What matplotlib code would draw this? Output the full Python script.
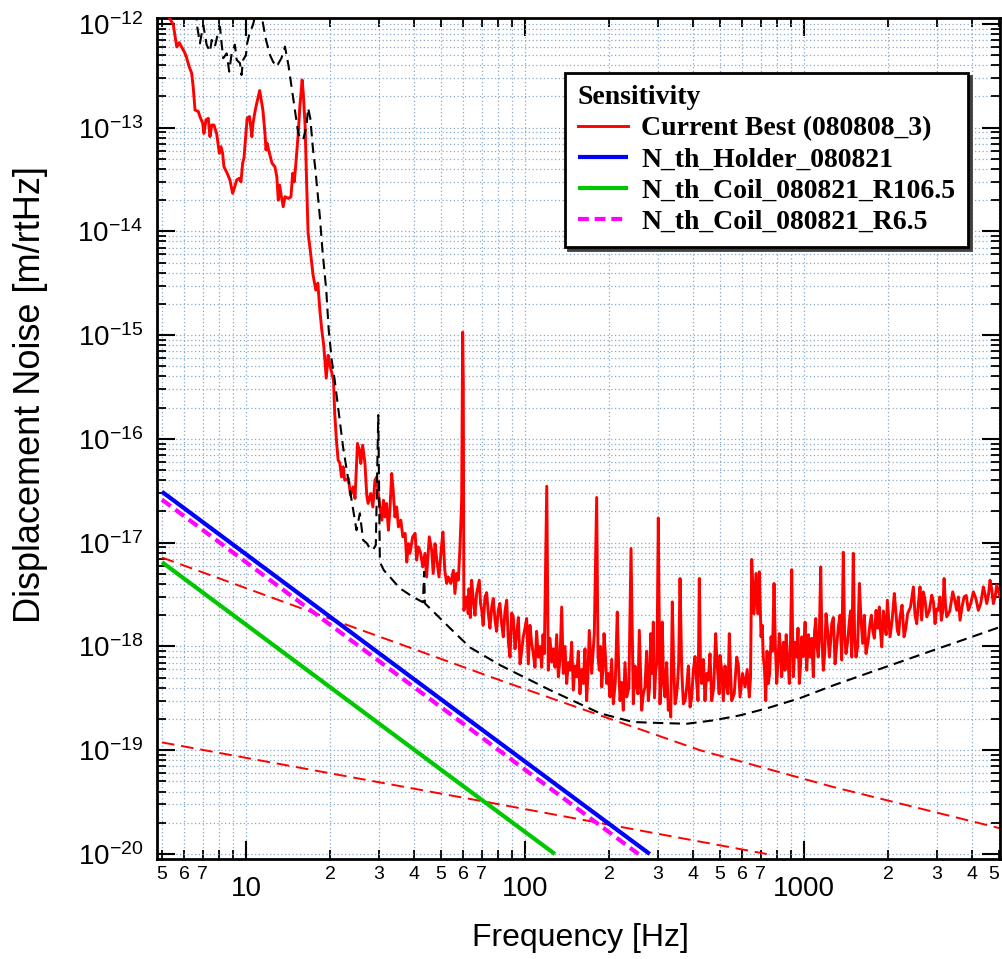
import matplotlib
matplotlib.use("Agg")
import numpy as np
import matplotlib.pyplot as plt
import matplotlib.transforms as mtransforms
from matplotlib.ticker import FuncFormatter, NullFormatter, FixedLocator
from matplotlib.font_manager import FontProperties

# ---------------- data ----------------
red_points = [
    (5.1, 1.4e-12), (5.49, 9.8e-13), (5.65, 6.0e-13), (5.77, 6.6e-13), (5.88, 6.0e-13),
    (6.04, 5.25e-13), (6.11, 4.84e-13), (6.26, 3.87e-13), (6.39, 3.35e-13), (6.47, 2.48e-13),
    (6.57, 1.48e-13), (6.75, 1.43e-13), (6.84, 1.28e-13), (7.0, 1.10e-13), (7.07, 8.8e-14),
    (7.19, 1.19e-13), (7.33, 1.23e-13), (7.43, 8.2e-14), (7.54, 1.06e-13), (7.68, 1.06e-13),
    (7.85, 8.8e-14), (8.03, 5.66e-14), (8.14, 6.56e-14), (8.25, 5.66e-14), (8.34, 4.2e-14),
    (8.57, 3.63e-14), (8.76, 3.13e-14), (8.96, 2.33e-14), (9.08, 2.6e-14), (9.26, 3.13e-14),
    (9.46, 3.25e-14), (9.60, 3.0e-14), (9.73, 4.54e-14), (9.84, 5.1e-14), (10.0, 8.8e-14),
    (10.1, 1.23e-13), (10.3, 1.28e-13), (10.5, 8.2e-14), (10.6, 1.10e-13), (10.8, 1.48e-13),
    (10.9, 1.66e-13), (11.2, 2.28e-13), (11.4, 1.72e-13), (11.5, 1.48e-13), (11.7, 8.8e-14),
    (11.8, 6.1e-14), (11.9, 7.1e-14), (12.1, 5.87e-14), (12.4, 4.54e-14), (12.7, 4.2e-14),
    (12.9, 3.37e-14), (13.06, 2.0e-14), (13.2, 2.8e-14), (13.4, 2.16e-14), (13.6, 1.73e-14),
    (13.8, 2.16e-14), (14.2, 2.08e-14), (14.5, 2.16e-14), (14.7, 3.63e-14), (14.9, 3.0e-14),
    (15.1, 4.54e-14), (15.4, 8.8e-14), (15.6, 1.59e-13), (15.9, 2.88e-13), (16.05, 2.15e-13),
    (16.3, 1.02e-13), (16.5, 2.91e-14), (16.7, 9.6e-15), (17.0, 6.6e-15), (17.4, 3.8e-15),
    (17.8, 2.72e-15), (18.1, 3.17e-15), (18.4, 1.75e-15), (18.7, 1.12e-15), (19.0, 8.0e-16),
    (19.4, 3.86e-16), (19.7, 6.4e-16), (20.0, 5.15e-16), (20.6, 3.69e-16), (20.8, 1.77e-16),
    (21.1, 9.7e-17), (21.4, 6.25e-17), (21.7, 5.85e-17), (22.0, 4.3e-17), (22.3, 5.4e-17),
    (22.6, 4.0e-17), (23.3, 4.16e-17), (23.7, 2.87e-17), (24.2, 3.45e-17), (24.6, 2.67e-17),
    (25.1, 9.05e-17), (25.5, 7.8e-17), (25.8, 5.8e-17), (26.2, 8.7e-17), (26.7, 5.8e-17),
    (27.1, 2.87e-17), (27.4, 2.39e-17), (28.0, 2.98e-17), (28.5, 2.21e-17), (29.0, 4.0e-17),
    (29.4, 4.3e-17), (29.8, 2.98e-17), (30.2, 2.21e-17), (30.7, 1.65e-17), (31.1, 2.57e-17),
    (31.5, 1.77e-17), (31.9, 2.39e-17), (32.4, 1.32e-17), (32.8, 2.06e-17), (33.3, 4.65e-17),
    (33.7, 3.2e-17), (34.2, 1.77e-17), (34.7, 2.21e-17), (35.2, 1.42e-17), (35.9, 1.65e-17),
    (36.5, 1.14e-17), (37.2, 1.23e-17), (37.7, 6.5e-18), (38.2, 9.8e-18), (38.7, 7.9e-18),
    (39.6, 1.14e-17), (40.4, 1.23e-17), (40.9, 6.8e-18), (41.5, 9.1e-18), (42.3, 7.9e-18),
    (43.0, 5.85e-18), (43.8, 7.9e-18), (44.4, 4.68e-18), (45.4, 1.14e-17), (46.3, 8.5e-18),
    (46.9, 5.05e-18), (47.6, 9.8e-18), (48.3, 6.8e-18), (49.2, 4.68e-18), (50.2, 9.1e-18),
    (50.8, 1.27e-17), (51.6, 5.43e-18), (52.4, 4.05e-18), (53.1, 4.68e-18), (54.2, 4.05e-18),
    (55.4, 5.43e-18), (56.1, 3.24e-18), (56.9, 5.05e-18), (57.7, 4.35e-18), (58.5, 9.1e-18),
    (59.3, 2.57e-17), (59.8, 1.07e-15), (60.1, 3.7e-16), (60.4, 2.23e-18), (61.8, 3.0e-18),
    (62.6, 2.07e-18), (64.4, 4.35e-18), (65.3, 2.79e-18), (67.1, 3.24e-18), (68.6, 4.35e-18),
    (70.0, 2.23e-18), (71.9, 3.0e-18), (73.9, 2.07e-18), (76.0, 2.4e-18), (78.1, 1.79e-18),
    (80.2, 2.23e-18), (82.5, 1.66e-18), (83.6, 1.24e-18), (86.0, 2.79e-18), (88.4, 7.9e-19),
    (90.8, 1.93e-18), (93.4, 1.33e-18), (96.0, 6.8e-19), (98.6, 1.24e-18), (101.4, 1.86e-18),
    (102.8, 6.8e-19), (105.7, 1.07e-18), (108.6, 6.3e-19), (111.6, 7.9e-19), (114.8, 6.3e-19),
    (117.3, 8.55e-19), (119.7, 3.5e-17), (121.2, 5.9e-19), (124.7, 7.1e-19), (128.1, 6.3e-19),
    (131.7, 5.1e-19), (135.4, 2.4e-18), (137.2, 5.5e-19), (141.1, 4.4e-19), (145.0, 5.9e-19),
    (149.0, 3.8e-19), (153.2, 5.1e-19), (157.4, 3.5e-19), (161.8, 4.4e-19), (166.4, 3.0e-19),
    (170.0, 1.43e-18), (173.4, 5.5e-19), (177.2, 1.33e-18), (180.7, 2.73e-17), (184.7, 5.9e-19),
    (188.4, 4.07e-19), (192.0, 1.33e-18), (196.3, 4.4e-19), (201.7, 3.26e-19), (207.3, 2.8e-19),
    (214.2, 2.15e-18), (219.1, 3.0e-19), (225.1, 2.43e-19), (231.5, 3.26e-19), (239.9, 8.8e-18),
    (244.5, 2.8e-19), (251.4, 4.07e-19), (256.9, 1.43e-18), (262.0, 2.43e-19), (269.2, 4.07e-19),
    (276.7, 3.0e-19), (282.2, 1.33e-18), (288.4, 1.72e-18), (294.1, 5.9e-19), (300.5, 1.73e-17),
    (304.7, 2.8e-19), (310.5, 1.72e-18), (317.6, 3.26e-19), (326.4, 2.43e-19), (333.0, 2.09e-19),
    (337.3, 2.69e-18), (345.0, 2.8e-19), (351.6, 4.07e-19), (359.5, 4.52e-18), (369.5, 2.8e-19),
    (379.9, 4.07e-19), (390.5, 2.61e-19), (401.2, 5.9e-19), (412.6, 4.4e-19), (421.5, 4.52e-18),
    (429.9, 4.4e-19), (441.7, 3.0e-19), (454.0, 4.72e-19), (466.9, 3.0e-19), (482.5, 1.33e-18),
    (493.0, 4.72e-19), (500.0, 8.2e-19), (513.8, 3.0e-19), (528.4, 4.07e-19), (539.8, 1.33e-18),
    (550.6, 3.0e-19), (574.0, 7.9e-19), (589.8, 3.26e-19), (614.6, 4.07e-19), (636.8, 3.26e-19),
    (649.5, 6.9e-18), (662.1, 2.07e-18), (673.0, 5.05e-18), (682.5, 2.07e-18), (691.7, 5.24e-18),
    (701.5, 1.24e-18), (714.9, 7.9e-19), (729.2, 3.0e-19), (745.0, 4.4e-19), (761.8, 1.24e-18),
    (780.8, 4.05e-18), (798.5, 4.4e-19), (815.8, 1.33e-18), (832.1, 5.1e-19), (855.1, 5.9e-19),
    (871.5, 7.9e-19), (886.0, 4.4e-19), (903.7, 5.5e-18), (915.7, 5.1e-19), (941.7, 7.9e-19),
    (962.1, 4.4e-19), (981.3, 1.24e-18), (1009, 1.72e-18), (1023, 5.9e-19), (1051, 7.9e-19),
    (1080, 5.1e-19), (1102, 1.86e-18), (1125, 7.9e-19), (1148, 5.85e-18), (1173, 5.9e-19),
    (1199, 2.07e-18), (1233, 7.9e-19), (1257, 1.66e-18), (1292, 6.8e-19), (1327, 1.54e-18),
    (1365, 7.4e-19), (1383, 8.1e-18), (1414, 8.55e-19), (1453, 1.72e-18), (1483, 7.9e-19),
    (1502, 7.9e-18), (1536, 7.9e-19), (1579, 4.05e-18), (1623, 1.07e-18), (1668, 8.55e-19),
    (1724, 1.66e-18), (1763, 1.43e-18), (1812, 2.23e-18), (1862, 2.4e-18), (1899, 9.9e-19),
    (1952, 1.54e-18), (1989, 2.79e-18), (2034, 1.24e-18), (2107, 3.24e-18), (2160, 1.43e-18),
    (2209, 1.93e-18), (2283, 1.24e-18), (2351, 2.07e-18), (2466, 3.75e-18), (2535, 1.66e-18),
    (2605, 3.75e-18), (2677, 3.36e-18), (2754, 1.93e-18), (2870, 3.12e-18), (2949, 1.66e-18),
    (3030, 2.23e-18), (3107, 1.79e-18), (3177, 4.52e-18), (3247, 1.93e-18), (3412, 3.36e-18),
    (3527, 2.23e-18), (3624, 1.79e-18), (3746, 3.0e-18), (3882, 2.23e-18), (4045, 3.36e-18),
    (4215, 2.23e-18), (4393, 3.75e-18), (4518, 2.59e-18), (4642, 4.35e-18), (4771, 2.59e-18),
    (4907, 3.9e-18), (5042, 3.0e-18),
]

# further readings of the dense noise band above 60 Hz
red_band_points = [
    (63.0, 3.6e-18), (63.7, 1.9e-18), (66.2, 2.0e-18), (69.3, 2.6e-18), (70.8, 1.6e-18),
    (72.9, 3.3e-18), (74.9, 1.5e-18), (77.0, 2.9e-18), (79.1, 1.4e-18), (81.3, 2.6e-18),
    (84.8, 2.2e-18), (87.2, 1.1e-18), (89.6, 2.1e-18), (92.1, 9.5e-19), (94.7, 1.9e-18),
    (97.3, 9.0e-19), (100.0, 1.5e-18), (104.2, 1.6e-18), (107.1, 8.5e-19), (110.1, 1.4e-18),
    (113.2, 1.0e-18), (116.0, 1.3e-18), (122.9, 1.2e-18), (126.4, 9.5e-19), (129.9, 1.3e-18),
    (133.5, 7.5e-19), (139.1, 1.0e-18), (143.0, 7.0e-19), (147.0, 1.1e-18), (151.1, 6.5e-19),
    (155.3, 9.0e-19), (159.6, 6.0e-19), (164.1, 9.5e-19), (168.2, 5.5e-19), (175.3, 8.5e-19),
    (182.7, 8.0e-19), (186.5, 1.0e-18), (190.2, 6.0e-19), (194.1, 8.5e-19), (199.0, 5.5e-19),
    (204.5, 7.5e-19), (210.7, 4.5e-19), (216.6, 6.5e-19), (222.1, 4.5e-19), (228.3, 7.0e-19),
    (235.7, 4.0e-19), (247.9, 6.5e-19), (254.1, 3.5e-19), (259.5, 6.0e-19), (265.6, 3.5e-19),
    (272.9, 9.0e-19), (279.4, 4.0e-19), (285.3, 5.5e-19), (291.2, 3.2e-19), (297.2, 7.0e-19),
    (307.6, 6.0e-19), (314.0, 4.2e-19), (321.9, 7.0e-19), (329.7, 3.0e-19), (341.2, 6.5e-19),
    (348.3, 3.2e-19), (355.5, 7.0e-19), (364.5, 6.0e-19), (374.7, 3.0e-19), (385.2, 6.5e-19),
    (395.8, 3.2e-19), (406.9, 8.0e-19), (417.0, 3.0e-19), (425.7, 6.5e-19), (435.8, 7.5e-19),
    (447.8, 5.5e-19), (460.4, 8.5e-19), (474.7, 4.0e-19), (487.7, 7.0e-19), (496.5, 3.5e-19),
    (506.9, 6.0e-19), (521.1, 6.5e-19), (534.1, 3.5e-19), (545.2, 6.0e-19), (562.3, 3.5e-19),
    (581.9, 6.5e-19), (602.2, 5.5e-19), (625.7, 6.0e-19), (643.1, 5.0e-19), (708.2, 1.6e-18),
    (722.0, 6.0e-19), (737.1, 9.0e-19), (753.4, 5.5e-19), (771.3, 9.0e-19), (789.6, 1.0e-18),
    (807.1, 7.0e-19), (823.9, 9.0e-19), (843.6, 1.1e-18), (863.3, 1.3e-18), (878.7, 6.5e-19),
    (894.9, 1.2e-18), (909.7, 1.4e-18), (928.7, 1.1e-18), (951.9, 1.5e-18), (971.7, 6.5e-19),
    (995.0, 8.0e-19), (1016, 9.5e-19), (1037, 1.3e-18), (1065, 1.2e-18), (1091, 1.4e-18),
    (1113, 1.0e-18), (1136, 1.5e-18), (1160, 1.1e-18), (1186, 8.5e-19), (1216, 1.4e-18),
    (1245, 1.1e-18), (1274, 1.9e-18), (1309, 1.0e-18), (1346, 2.0e-18), (1398, 1.3e-18),
    (1433, 1.1e-18), (1468, 2.2e-18), (1519, 1.2e-18), (1557, 1.0e-18), (1601, 1.8e-18),
    (1645, 2.0e-18), (1696, 1.1e-18), (1743, 2.0e-18), (1787, 1.2e-18), (1837, 1.5e-18),
    (1880, 1.4e-18), (1925, 2.2e-18), (1970, 1.3e-18), (2070, 1.8e-18), (2133, 2.2e-18),
    (2184, 1.3e-18), (2246, 2.5e-18), (2317, 1.5e-18), (2408, 2.4e-18), (2500, 2.0e-18),
    (2570, 2.6e-18), (2640, 1.8e-18), (2715, 2.8e-18), (2812, 2.2e-18), (2909, 2.7e-18),
    (2989, 2.3e-18), (3068, 3.0e-18), (3142, 2.2e-18), (3212, 2.6e-18), (3330, 2.2e-18),
    (3470, 2.8e-18), (3575, 3.0e-18), (3685, 2.4e-18), (3814, 3.1e-18), (3960, 2.6e-18),
    (4130, 2.9e-18), (4300, 2.6e-18), (4455, 3.2e-18), (4580, 3.1e-18), (4706, 3.6e-18),
    (4840, 3.0e-18), (4975, 3.4e-18),
]

design_points = [
    (6.62, 1.36e-12), (6.69, 9.4e-13), (6.84, 6.5e-13), (7.03, 9.8e-13), (7.23, 6.3e-13),
    (7.43, 5.4e-13), (7.54, 7.0e-13), (7.74, 6.04e-13), (7.96, 8.4e-13), (8.07, 9.4e-13),
    (8.18, 6.5e-13), (8.29, 4.67e-13), (8.53, 5.2e-13), (8.71, 3.47e-13), (8.89, 5.2e-13),
    (9.13, 6.3e-13), (9.26, 4.5e-13), (9.52, 4.18e-13), (9.64, 3.22e-13), (9.77, 4.5e-13),
    (10.0, 5.0e-13), (10.1, 6.5e-13), (10.3, 8.1e-13), (10.6, 9.8e-13), (10.8, 1.22e-12),
    (11.3, 1.36e-12), (11.5, 1.02e-12), (11.8, 7.0e-13), (12.2, 5.0e-13), (12.5, 4.33e-13),
    (12.9, 3.87e-13), (13.1, 4.2e-13), (13.4, 4.67e-13), (13.8, 6.04e-13), (14.2, 4.0e-13),
    (14.8, 1.85e-13), (15.4, 8.8e-14), (15.8, 7.6e-14), (16.1, 7.96e-14), (16.5, 1.06e-13),
    (16.7, 1.55e-13), (17.0, 1.24e-13), (17.4, 6.1e-14), (17.7, 4.18e-14), (18.4, 1.39e-14),
    (18.8, 6.6e-15), (19.4, 2.72e-15), (19.8, 1.12e-15), (20.3, 5.75e-16), (20.8, 3.69e-16),
    (22.3, 8.3e-17), (23.6, 3.2e-17), (24.9, 1.32e-17), (25.6, 1.92e-17), (26.3, 1.06e-17),
    (27.1, 9.9e-18), (27.8, 8.85e-18), (28.5, 8.5e-18), (29.2, 9.5e-18), (29.8, 1.7e-16),
    (30.2, 6.5e-18), (31.2, 5.43e-18), (32.8, 4.68e-18), (35.6, 3.64e-18), (39.7, 3.0e-18),
    (43.1, 2.67e-18), (43.5, 5.24e-18), (43.8, 2.6e-18), (47.6, 2.09e-18), (53.9, 1.5e-18),
    (63.5, 9.8e-19), (81.5, 6.6e-19), (123, 3.8e-19), (185.7, 2.27e-19), (244, 1.87e-19),
    (305, 1.83e-19), (380, 1.80e-19), (473, 1.94e-19), (590, 2.17e-19), (731, 2.52e-19),
    (968, 3.18e-19), (1274, 4.22e-19), (1678, 5.48e-19), (2209, 7.1e-19), (2907, 9.2e-19),
    (3830, 1.19e-18), (5040, 1.54e-18),
]

model_upper_points = [(5, 7.2e-18), (20, 1.85e-18), (81.5, 4.72e-19), (185.7, 2.17e-19),
                      (424, 1.0e-19), (1274, 4.42e-20), (5040, 1.77e-20)]
model_lower_points = [(5, 1.19e-19), (81.5, 3.0e-20), (735, 1.0e-20)]

holder_points = [(5, 3.1e-17), (50, 3.1e-19), (280, 1.0e-20)]
coil_r106_points = [(5, 6.5e-18), (50, 6.5e-20), (128, 1.0e-20)]
coil_r6_points = [(5, 2.6e-17), (50, 2.6e-19), (255, 1.0e-20)]

x_major_ticks = [10, 100, 1000]
x_minor_ticks = [5, 6, 7, 8, 9, 20, 30, 40, 50, 60, 70, 80, 90,
                 200, 300, 400, 500, 600, 700, 800, 900, 2000, 3000, 4000, 5000]
y_decades = list(range(-20, -11))

legend_title = "Sensitivity"
legend_labels = ["Current Best (080808_3)", "N_th_Holder_080821",
                 "N_th_Coil_080821_R106.5", "N_th_Coil_080821_R6.5"]
x_label = "Frequency [Hz]"
y_label = "Displacement Noise [m/rtHz]"


def xy(points):
    a = np.array(sorted(points), dtype=float)
    return a[:, 0], a[:, 1]


plt.rcParams['font.family'] = ['Liberation Sans', 'DejaVu Sans']
plt.rcParams['mathtext.fontset'] = 'custom'
plt.rcParams['mathtext.rm'] = 'Liberation Sans'
plt.rcParams['mathtext.it'] = 'Liberation Sans:italic'
plt.rcParams['mathtext.bf'] = 'Liberation Sans:bold'

fig = plt.figure(figsize=(10.02, 9.59), dpi=100)
ax = fig.add_axes([157 / 1002, 1 - 859 / 959, 843 / 1002, 841 / 959])
ax.set_xscale('log')
ax.set_yscale('log')
ax.set_xlim(4.80, 5040)
ax.set_ylim(8.95e-21, 1.14e-12)

# grid
ax.grid(True, which='both', color='#86a9cb', linestyle=(0, (1, 2)), linewidth=0.9)
ax.set_axisbelow(True)

# curves
f, v = xy(model_upper_points)
ax.plot(f, v, color='#ff0000', lw=1.4, ls=(0, (6.5, 3.5)), zorder=2)
f, v = xy(model_lower_points)
ax.plot(f, v, color='#ff0000', lw=1.4, ls=(0, (6.5, 3.5)), zorder=2)

f, v = xy(coil_r106_points)
l_green, = ax.plot(f, v, color='#00c800', lw=3.0, solid_capstyle='butt', zorder=3)
f, v = xy(coil_r6_points)
l_mag, = ax.plot(f, v, color='#ff00ff', lw=3.0, ls=(0, (2.6, 1.4)), zorder=3)
f, v = xy(holder_points)
l_blue, = ax.plot(f, v, color='#0000ff', lw=3.0, solid_capstyle='butt', zorder=3)

f, v = xy(red_points + red_band_points)
l_red, = ax.plot(f, v, color='#ff0000', lw=2.1, zorder=4)

f, v = xy(design_points)
ax.plot(f, v, color='black', lw=1.5, ls=(0, (5, 3)), zorder=5)

# ticks
ax.xaxis.set_major_locator(FixedLocator(x_major_ticks))
ax.xaxis.set_minor_locator(FixedLocator(x_minor_ticks))
y_major = [10.0 ** e for e in y_decades]
y_minor = [m * 10.0 ** e for e in y_decades[:-1] for m in range(2, 10)]
ax.yaxis.set_major_locator(FixedLocator(y_major))
ax.yaxis.set_minor_locator(FixedLocator(y_minor))


def xmajor(x, pos):
    return '%d' % round(x)


def xminor(x, pos):
    e = np.floor(np.log10(x) + 1e-9)
    m = int(round(x / 10 ** e))
    return str(m) if 2 <= m <= 7 else ''


def ymajor(y, pos):
    return r'$\mathregular{10^{%d}}$' % int(round(np.log10(y)))


ax.xaxis.set_major_formatter(FuncFormatter(xmajor))
ax.xaxis.set_minor_formatter(FuncFormatter(xminor))
ax.yaxis.set_major_formatter(FuncFormatter(ymajor))
ax.yaxis.set_minor_formatter(NullFormatter())

ax.tick_params(which='both', direction='in', top=True, right=True, color='black')
ax.tick_params(which='major', length=13, width=1.5)
ax.tick_params(which='minor', length=6.5, width=1.3)
ax.tick_params(axis='x', which='major', labelsize=20, pad=12)
ax.tick_params(axis='x', which='minor', labelsize=14, pad=5)
ax.tick_params(axis='y', which='major', labelsize=20, pad=10)

for s in ax.spines.values():
    s.set_linewidth(2.0)

# keep the last minor label ("5" at 5000 Hz) inside the figure
fig.canvas.draw()
last_tick = ax.xaxis.get_minor_ticks()[-1]
last_tick.label1.set_transform(last_tick.label1.get_transform() +
                               mtransforms.ScaledTranslation(-5 / 100, 0, fig.dpi_scale_trans))

ax.set_xlabel(x_label, fontsize=23)
ax.set_ylabel(y_label, fontsize=26)
ax.xaxis.set_label_coords(0.502, -0.076)
ax.yaxis.set_label_coords(-0.129, 0.552)

# legend
lp = FontProperties(family='Liberation Serif', weight='bold', size=20)
leg = ax.legend([l_red, l_blue, l_green, l_mag], legend_labels, title=legend_title,
                prop=lp, title_fontproperties=lp, alignment='left',
                loc='upper left', bbox_to_anchor=(565 / 1002, 1 - 73 / 959),
                bbox_transform=fig.transFigure, borderaxespad=0,
                frameon=True, fancybox=False, framealpha=1, edgecolor='black',
                shadow={'color': '0.25', 'alpha': 1.0},
                handlelength=1.8, handletextpad=0.5, labelspacing=0.2,
                borderpad=0.45)
leg.get_frame().set_linewidth(2.0)
leg.set_zorder(10)

fig.savefig('out.png', dpi=100)
